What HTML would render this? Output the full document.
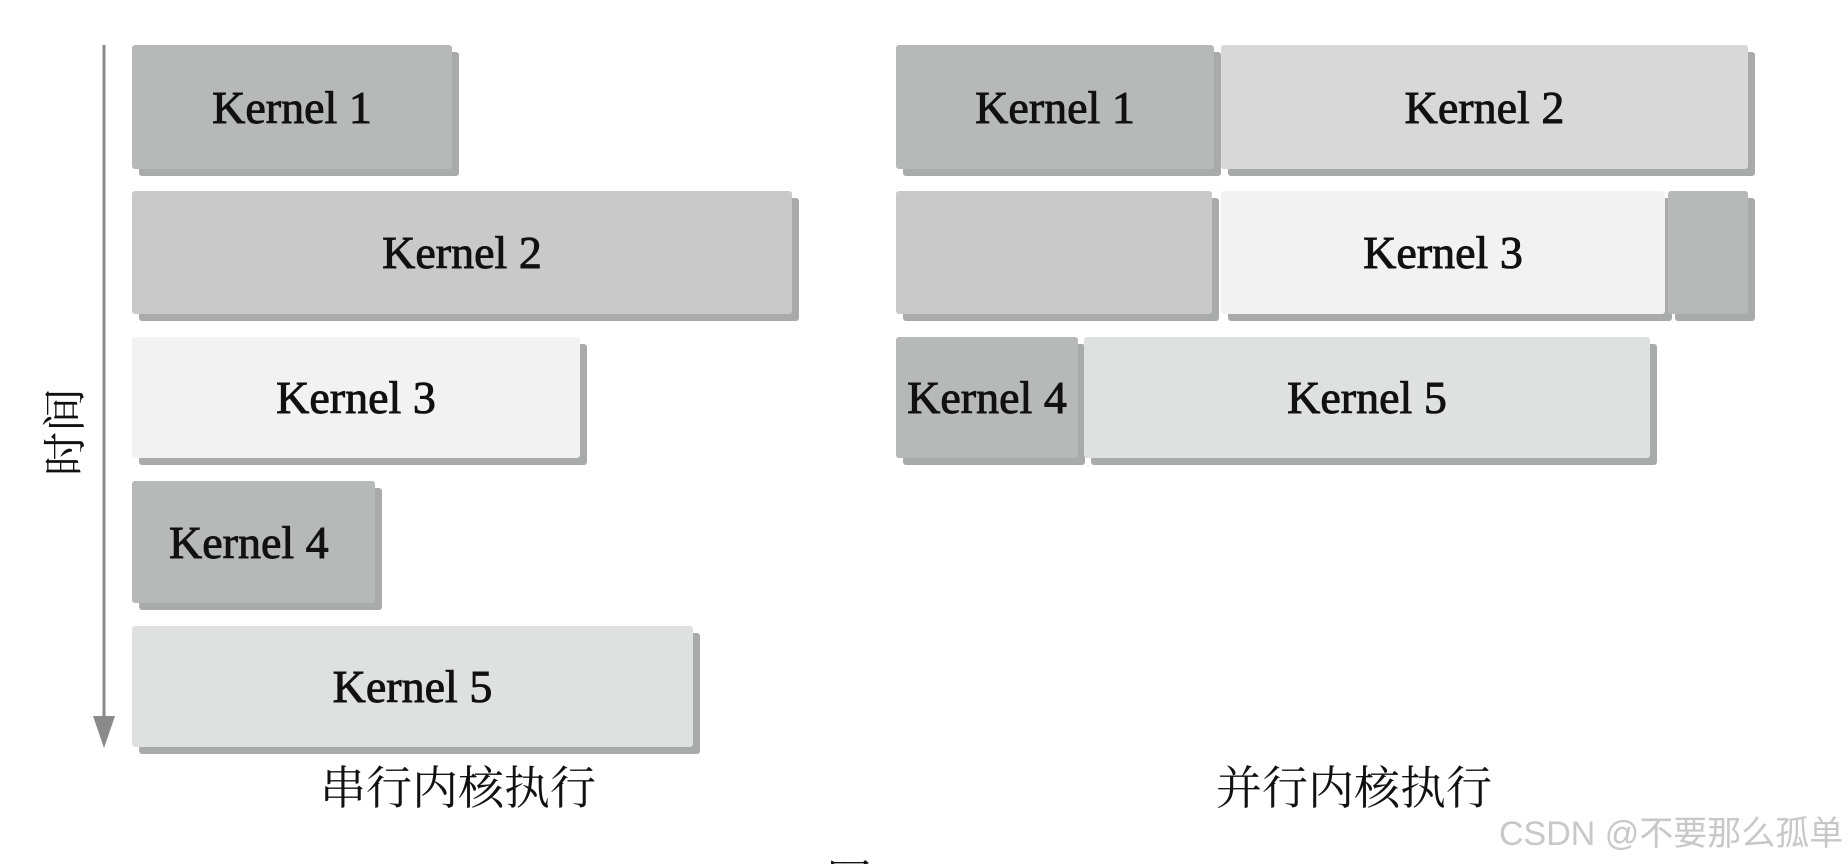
<!DOCTYPE html>
<html style="height:864px;overflow:hidden"><head><meta charset="utf-8"><style>
body{margin:0;width:1848px;height:864px;background:#fff;position:relative;overflow:hidden;font-family:"Liberation Serif","Noto Serif CJK SC",serif}
.b{position:absolute;box-shadow:7px 7px 0 #a9abaa;border-radius:3px;display:flex;align-items:center;justify-content:center;font-size:46px;color:#111;-webkit-text-stroke:0.9px #111}
.d{background:#b6b9b8}.m{background:#c9c9c9}.l{background:#f2f2f2}.e{background:#dfe1e0}.k{background:#d8d8d8}
.cap{position:absolute;font-family:"Liberation Serif","Noto Serif CJK SC",serif;font-size:46px;color:#111;white-space:nowrap}
</style></head><body>
<svg style="position:absolute;left:0;top:0" width="1848" height="864">
<line x1="104" y1="45" x2="104" y2="725" stroke="#8a8a8a" stroke-width="3"/>
<polygon points="93,716 115,716 104,748" fill="#8a8a8a"/>
</svg>
<div class="cap" style="left:22px;top:404px;font-size:44px;line-height:56px;width:88px;text-align:center;transform:rotate(-90deg);transform-origin:center">时间</div>

<div class="b d" style="left:132px;top:45px;width:320px;height:124px">Kernel 1</div>
<div class="b m" style="left:132px;top:191px;width:660px;height:123px">Kernel 2</div>
<div class="b l" style="left:132px;top:337px;width:448px;height:121px">Kernel 3</div>
<div class="b d" style="left:132px;top:481px;width:243px;height:122px;justify-content:flex-start;padding-left:37px;box-sizing:border-box">Kernel 4</div>
<div class="b e" style="left:132px;top:626px;width:561px;height:121px">Kernel 5</div>

<div class="b d" style="left:896px;top:45px;width:318px;height:124px">Kernel 1</div>
<div class="b k" style="left:1221px;top:45px;width:527px;height:124px">Kernel 2</div>
<div class="b m" style="left:896px;top:191px;width:316px;height:123px"></div>
<div class="b l" style="left:1221px;top:191px;width:444px;height:123px">Kernel 3</div>
<div class="b d" style="left:1668px;top:191px;width:80px;height:123px"></div>
<div class="b d" style="left:896px;top:337px;width:182px;height:121px">Kernel 4</div>
<div class="b e" style="left:1084px;top:337px;width:566px;height:121px">Kernel 5</div>

<div class="cap" style="left:320px;top:752px">串行内核执行</div>
<div class="cap" style="left:1216px;top:752px">并行内核执行</div>
<div class="cap" style="left:826px;top:846px">图　3-5</div>
<div style="position:absolute;left:1499px;top:806px;font-family:'Liberation Sans','Noto Sans CJK SC',sans-serif;font-size:34px;color:#c8c8c8;white-space:nowrap">CSDN @不要那么孤单</div>
</body></html>
